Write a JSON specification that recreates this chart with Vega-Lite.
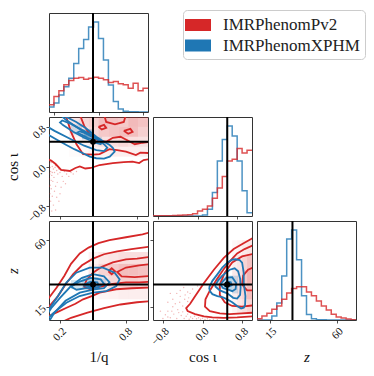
{
"$schema": "https://vega.github.io/schema/vega-lite/v6.json",
"background": "white",
"padding": {"left": 4, "top": 9, "right": 5, "bottom": 5},
"columns": 3,
"spacing": 5,
"bounds": "flush",
"config": {
  "view": {"stroke": "#333333", "strokeWidth": 1},
  "axis": {"domain": false, "grid": false, "tickColor": "#222222", "tickSize": 3, "tickWidth": 0.8, "labelFont": "Liberation Serif", "labelFontSize": 11, "labelColor": "#111111", "labelPadding": 2, "labelOverlap": false, "labelBound": false, "labelFlush": false, "titleFont": "Liberation Serif", "titleFontSize": 15, "titleFontWeight": "normal", "titleColor": "#111111"},
  "axisX": {"labelAngle": -45, "labelAlign": "right", "labelBaseline": "top", "labelOverlap": false, "minExtent": 24, "maxExtent": 24, "titlePadding": 5},
  "axisY": {"labelAngle": -45, "labelAlign": "right", "labelBaseline": "middle", "labelOverlap": false, "minExtent": 24, "maxExtent": 24, "titlePadding": 5},
  "legend": {"labelFont": "Liberation Serif", "labelFontSize": 17, "labelColor": "#222222"}
},
"datasets": {
"truth": [{"q": 0.5, "c": 0.5, "z": 30}],
"hist": [
{"p":"q","m":"X","x":0.1,"y":5.5},{"p":"q","m":"X","x":0.145,"y":10},{"p":"q","m":"X","x":0.19,"y":19},{"p":"q","m":"X","x":0.235,"y":28},{"p":"q","m":"X","x":0.28,"y":37.5},{"p":"q","m":"X","x":0.325,"y":54},{"p":"q","m":"X","x":0.37,"y":70.6},{"p":"q","m":"X","x":0.415,"y":80.6},{"p":"q","m":"X","x":0.46,"y":94.5},{"p":"q","m":"X","x":0.505,"y":100},{"p":"q","m":"X","x":0.55,"y":81.7},{"p":"q","m":"X","x":0.595,"y":57.8},{"p":"q","m":"X","x":0.64,"y":30},{"p":"q","m":"X","x":0.685,"y":11.8},{"p":"q","m":"X","x":0.73,"y":3.3},{"p":"q","m":"X","x":0.775,"y":0.7},{"p":"q","m":"X","x":0.82,"y":0.3},{"p":"q","m":"X","x":0.865,"y":0.2},{"p":"q","m":"X","x":0.91,"y":0.1},{"p":"q","m":"X","x":0.955,"y":0.1},{"p":"q","m":"X","x":1.0,"y":0.1},
{"p":"q","m":"P","x":0.1,"y":8.1},{"p":"q","m":"P","x":0.145,"y":17.3},{"p":"q","m":"P","x":0.19,"y":23.5},{"p":"q","m":"P","x":0.235,"y":30.2},{"p":"q","m":"P","x":0.28,"y":35},{"p":"q","m":"P","x":0.325,"y":37.5},{"p":"q","m":"P","x":0.37,"y":38.3},{"p":"q","m":"P","x":0.415,"y":36.4},{"p":"q","m":"P","x":0.46,"y":37.5},{"p":"q","m":"P","x":0.505,"y":38.6},{"p":"q","m":"P","x":0.55,"y":37.5},{"p":"q","m":"P","x":0.595,"y":35.7},{"p":"q","m":"P","x":0.64,"y":32.7},{"p":"q","m":"P","x":0.685,"y":33.8},{"p":"q","m":"P","x":0.73,"y":31.3},{"p":"q","m":"P","x":0.775,"y":30.2},{"p":"q","m":"P","x":0.82,"y":26.5},{"p":"q","m":"P","x":0.865,"y":32},{"p":"q","m":"P","x":0.91,"y":23.5},{"p":"q","m":"P","x":0.955,"y":26.5},{"p":"q","m":"P","x":1.0,"y":26.5},
{"p":"c","m":"X","x":-1,"y":0},{"p":"c","m":"X","x":-0.9,"y":0},{"p":"c","m":"X","x":-0.8,"y":0},{"p":"c","m":"X","x":-0.7,"y":0},{"p":"c","m":"X","x":-0.6,"y":0},{"p":"c","m":"X","x":-0.5,"y":0},{"p":"c","m":"X","x":-0.4,"y":0},{"p":"c","m":"X","x":-0.3,"y":0},{"p":"c","m":"X","x":-0.2,"y":0},{"p":"c","m":"X","x":-0.1,"y":0},{"p":"c","m":"X","x":0,"y":1},{"p":"c","m":"X","x":0.1,"y":7.4},{"p":"c","m":"X","x":0.2,"y":26},{"p":"c","m":"X","x":0.3,"y":61},{"p":"c","m":"X","x":0.4,"y":85},{"p":"c","m":"X","x":0.5,"y":100},{"p":"c","m":"X","x":0.6,"y":89},{"p":"c","m":"X","x":0.7,"y":61},{"p":"c","m":"X","x":0.8,"y":28},{"p":"c","m":"X","x":0.9,"y":3.7},{"p":"c","m":"X","x":1.0,"y":3.7},
{"p":"c","m":"P","x":-1,"y":0.2},{"p":"c","m":"P","x":-0.9,"y":0.2},{"p":"c","m":"P","x":-0.8,"y":0.3},{"p":"c","m":"P","x":-0.7,"y":0.4},{"p":"c","m":"P","x":-0.6,"y":0.5},{"p":"c","m":"P","x":-0.5,"y":0.8},{"p":"c","m":"P","x":-0.4,"y":1.1},{"p":"c","m":"P","x":-0.3,"y":1.5},{"p":"c","m":"P","x":-0.2,"y":2.6},{"p":"c","m":"P","x":-0.1,"y":5.5},{"p":"c","m":"P","x":0,"y":7.4},{"p":"c","m":"P","x":0.1,"y":11},{"p":"c","m":"P","x":0.2,"y":19.6},{"p":"c","m":"P","x":0.3,"y":31},{"p":"c","m":"P","x":0.4,"y":44},{"p":"c","m":"P","x":0.5,"y":61},{"p":"c","m":"P","x":0.6,"y":63},{"p":"c","m":"P","x":0.7,"y":75},{"p":"c","m":"P","x":0.8,"y":70},{"p":"c","m":"P","x":0.9,"y":73},{"p":"c","m":"P","x":1.0,"y":73},
{"p":"z","m":"X","x":6,"y":0},{"p":"z","m":"X","x":9.35,"y":0},{"p":"z","m":"X","x":12.7,"y":0},{"p":"z","m":"X","x":16.05,"y":4.4},{"p":"z","m":"X","x":19.4,"y":19},{"p":"z","m":"X","x":22.75,"y":49},{"p":"z","m":"X","x":26.1,"y":90},{"p":"z","m":"X","x":29.45,"y":100},{"p":"z","m":"X","x":32.8,"y":67},{"p":"z","m":"X","x":36.15,"y":27},{"p":"z","m":"X","x":39.5,"y":6},{"p":"z","m":"X","x":42.85,"y":1.5},{"p":"z","m":"X","x":46.2,"y":0.3},{"p":"z","m":"X","x":49.55,"y":0.2},{"p":"z","m":"X","x":52.9,"y":0.1},{"p":"z","m":"X","x":56.25,"y":0},{"p":"z","m":"X","x":59.6,"y":0},{"p":"z","m":"X","x":62.95,"y":0},{"p":"z","m":"X","x":66.3,"y":0},{"p":"z","m":"X","x":69.65,"y":0},{"p":"z","m":"X","x":73,"y":0},
{"p":"z","m":"P","x":6,"y":1.5},{"p":"z","m":"P","x":9.35,"y":4.4},{"p":"z","m":"P","x":12.7,"y":7.4},{"p":"z","m":"P","x":16.05,"y":12},{"p":"z","m":"P","x":19.4,"y":15.5},{"p":"z","m":"P","x":22.75,"y":23},{"p":"z","m":"P","x":26.1,"y":30},{"p":"z","m":"P","x":29.45,"y":35},{"p":"z","m":"P","x":32.8,"y":37},{"p":"z","m":"P","x":36.15,"y":37},{"p":"z","m":"P","x":39.5,"y":31},{"p":"z","m":"P","x":42.85,"y":27},{"p":"z","m":"P","x":46.2,"y":21},{"p":"z","m":"P","x":49.55,"y":15.5},{"p":"z","m":"P","x":52.9,"y":11},{"p":"z","m":"P","x":56.25,"y":6.3},{"p":"z","m":"P","x":59.6,"y":3.3},{"p":"z","m":"P","x":62.95,"y":2.2},{"p":"z","m":"P","x":66.3,"y":1.1},{"p":"z","m":"P","x":69.65,"y":0.4},{"p":"z","m":"P","x":73,"y":0.4}
],
"shade": [
{"p":"A","m":"P","x":0.28,"x2":0.37,"y":0.8,"y2":1.0,"a":0.12},{"p":"A","m":"P","x":0.37,"x2":0.46,"y":0.8,"y2":1.0,"a":0.18},{"p":"A","m":"P","x":0.46,"x2":0.55,"y":0.8,"y2":1.0,"a":0.22},{"p":"A","m":"P","x":0.55,"x2":0.64,"y":0.8,"y2":1.0,"a":0.3},{"p":"A","m":"P","x":0.64,"x2":0.73,"y":0.8,"y2":1.0,"a":0.28},{"p":"A","m":"P","x":0.73,"x2":0.82,"y":0.8,"y2":1.0,"a":0.25},{"p":"A","m":"P","x":0.82,"x2":0.91,"y":0.8,"y2":1.0,"a":0.32},{"p":"A","m":"P","x":0.91,"x2":1.0,"y":0.8,"y2":1.0,"a":0.28},
{"p":"A","m":"P","x":0.28,"x2":0.37,"y":0.6,"y2":0.8,"a":0.08},{"p":"A","m":"P","x":0.37,"x2":0.46,"y":0.6,"y2":0.8,"a":0.12},{"p":"A","m":"P","x":0.46,"x2":0.55,"y":0.6,"y2":0.8,"a":0.18},{"p":"A","m":"P","x":0.55,"x2":0.64,"y":0.6,"y2":0.8,"a":0.25},{"p":"A","m":"P","x":0.64,"x2":0.73,"y":0.6,"y2":0.8,"a":0.28},{"p":"A","m":"P","x":0.73,"x2":0.82,"y":0.6,"y2":0.8,"a":0.3},{"p":"A","m":"P","x":0.82,"x2":0.91,"y":0.6,"y2":0.8,"a":0.3},{"p":"A","m":"P","x":0.91,"x2":1.0,"y":0.6,"y2":0.8,"a":0.22},
{"p":"A","m":"P","x":0.28,"x2":0.37,"y":0.4,"y2":0.6,"a":0.04},{"p":"A","m":"P","x":0.37,"x2":0.46,"y":0.4,"y2":0.6,"a":0.06},{"p":"A","m":"P","x":0.46,"x2":0.55,"y":0.4,"y2":0.6,"a":0.1},{"p":"A","m":"P","x":0.55,"x2":0.64,"y":0.4,"y2":0.6,"a":0.14},{"p":"A","m":"P","x":0.64,"x2":0.73,"y":0.4,"y2":0.6,"a":0.15},{"p":"A","m":"P","x":0.73,"x2":0.82,"y":0.4,"y2":0.6,"a":0.18},{"p":"A","m":"P","x":0.82,"x2":0.91,"y":0.4,"y2":0.6,"a":0.15},{"p":"A","m":"P","x":0.91,"x2":1.0,"y":0.4,"y2":0.6,"a":0.14},
{"p":"A","m":"P","x":0.28,"x2":0.37,"y":0.2,"y2":0.4,"a":0.02},{"p":"A","m":"P","x":0.37,"x2":0.46,"y":0.2,"y2":0.4,"a":0.03},{"p":"A","m":"P","x":0.46,"x2":0.55,"y":0.2,"y2":0.4,"a":0.05},{"p":"A","m":"P","x":0.55,"x2":0.64,"y":0.2,"y2":0.4,"a":0.06},{"p":"A","m":"P","x":0.64,"x2":0.73,"y":0.2,"y2":0.4,"a":0.08},{"p":"A","m":"P","x":0.73,"x2":0.82,"y":0.2,"y2":0.4,"a":0.08},{"p":"A","m":"P","x":0.82,"x2":0.91,"y":0.2,"y2":0.4,"a":0.08},{"p":"A","m":"P","x":0.91,"x2":1.0,"y":0.2,"y2":0.4,"a":0.08},
{"p":"B","m":"P","x":0.46,"x2":0.55,"y":44,"y2":52,"a":0.06},{"p":"B","m":"P","x":0.55,"x2":0.64,"y":44,"y2":52,"a":0.1},{"p":"B","m":"P","x":0.64,"x2":0.73,"y":44,"y2":52,"a":0.12},{"p":"B","m":"P","x":0.73,"x2":0.82,"y":44,"y2":52,"a":0.15},{"p":"B","m":"P","x":0.82,"x2":0.91,"y":44,"y2":52,"a":0.15},{"p":"B","m":"P","x":0.91,"x2":1.0,"y":44,"y2":52,"a":0.15},
{"p":"B","m":"P","x":0.46,"x2":0.55,"y":36,"y2":44,"a":0.1},{"p":"B","m":"P","x":0.55,"x2":0.64,"y":36,"y2":44,"a":0.2},{"p":"B","m":"P","x":0.64,"x2":0.73,"y":36,"y2":44,"a":0.25},{"p":"B","m":"P","x":0.73,"x2":0.82,"y":36,"y2":44,"a":0.3},{"p":"B","m":"P","x":0.82,"x2":0.91,"y":36,"y2":44,"a":0.3},{"p":"B","m":"P","x":0.91,"x2":1.0,"y":36,"y2":44,"a":0.28},
{"p":"B","m":"P","x":0.46,"x2":0.55,"y":28,"y2":36,"a":0.06},{"p":"B","m":"P","x":0.55,"x2":0.64,"y":28,"y2":36,"a":0.12},{"p":"B","m":"P","x":0.64,"x2":0.73,"y":28,"y2":36,"a":0.18},{"p":"B","m":"P","x":0.73,"x2":0.82,"y":28,"y2":36,"a":0.22},{"p":"B","m":"P","x":0.82,"x2":0.91,"y":28,"y2":36,"a":0.22},{"p":"B","m":"P","x":0.91,"x2":1.0,"y":28,"y2":36,"a":0.2},
{"p":"B","m":"P","x":0.46,"x2":0.55,"y":20,"y2":28,"a":0.03},{"p":"B","m":"P","x":0.55,"x2":0.64,"y":20,"y2":28,"a":0.05},{"p":"B","m":"P","x":0.64,"x2":0.73,"y":20,"y2":28,"a":0.06},{"p":"B","m":"P","x":0.73,"x2":0.82,"y":20,"y2":28,"a":0.08},{"p":"B","m":"P","x":0.82,"x2":0.91,"y":20,"y2":28,"a":0.08},{"p":"B","m":"P","x":0.91,"x2":1.0,"y":20,"y2":28,"a":0.08},
{"p":"C","m":"P","x":0.6,"x2":0.7,"y":10,"y2":20,"a":0.05},{"p":"C","m":"P","x":0.6,"x2":0.7,"y":20,"y2":30,"a":0.08},{"p":"C","m":"P","x":0.6,"x2":0.7,"y":30,"y2":40,"a":0.1},{"p":"C","m":"P","x":0.6,"x2":0.7,"y":40,"y2":50,"a":0.08},{"p":"C","m":"P","x":0.6,"x2":0.7,"y":50,"y2":60,"a":0.04},
{"p":"C","m":"P","x":0.7,"x2":0.8,"y":10,"y2":20,"a":0.1},{"p":"C","m":"P","x":0.7,"x2":0.8,"y":20,"y2":30,"a":0.15},{"p":"C","m":"P","x":0.7,"x2":0.8,"y":30,"y2":40,"a":0.15},{"p":"C","m":"P","x":0.7,"x2":0.8,"y":40,"y2":50,"a":0.12},{"p":"C","m":"P","x":0.7,"x2":0.8,"y":50,"y2":60,"a":0.06},
{"p":"C","m":"P","x":0.8,"x2":0.9,"y":10,"y2":20,"a":0.15},{"p":"C","m":"P","x":0.8,"x2":0.9,"y":20,"y2":30,"a":0.2},{"p":"C","m":"P","x":0.8,"x2":0.9,"y":30,"y2":40,"a":0.25},{"p":"C","m":"P","x":0.8,"x2":0.9,"y":40,"y2":50,"a":0.2},{"p":"C","m":"P","x":0.8,"x2":0.9,"y":50,"y2":60,"a":0.1},
{"p":"C","m":"P","x":0.9,"x2":1.0,"y":10,"y2":20,"a":0.2},{"p":"C","m":"P","x":0.9,"x2":1.0,"y":20,"y2":30,"a":0.3},{"p":"C","m":"P","x":0.9,"x2":1.0,"y":30,"y2":40,"a":0.35},{"p":"C","m":"P","x":0.9,"x2":1.0,"y":40,"y2":50,"a":0.28},{"p":"C","m":"P","x":0.9,"x2":1.0,"y":50,"y2":60,"a":0.12},
{"p":"A","m":"X","x":0.3,"x2":0.4,"y":0.65,"y2":0.85,"a":0.2},{"p":"A","m":"X","x":0.4,"x2":0.5,"y":0.55,"y2":0.75,"a":0.3},{"p":"A","m":"X","x":0.5,"x2":0.58,"y":0.45,"y2":0.6,"a":0.2},{"p":"A","m":"X","x":0.42,"x2":0.48,"y":0.6,"y2":0.7,"a":0.5},
{"p":"B","m":"X","x":0.3,"x2":0.4,"y":27,"y2":33,"a":0.2},{"p":"B","m":"X","x":0.4,"x2":0.55,"y":27,"y2":35,"a":0.3},{"p":"B","m":"X","x":0.45,"x2":0.52,"y":29,"y2":32,"a":0.5},{"p":"B","m":"X","x":0.55,"x2":0.62,"y":28,"y2":34,"a":0.2},
{"p":"C","m":"X","x":0.3,"x2":0.45,"y":27,"y2":35,"a":0.2},{"p":"C","m":"X","x":0.45,"x2":0.6,"y":26,"y2":36,"a":0.3},{"p":"C","m":"X","x":0.48,"x2":0.56,"y":29,"y2":32,"a":0.5},{"p":"C","m":"X","x":0.6,"x2":0.72,"y":24,"y2":36,"a":0.2}
],
"dots": [
{"p":"A","x":0.105,"y":0.05},{"p":"A","x":0.11,"y":-0.02},{"p":"A","x":0.12,"y":0.08},{"p":"A","x":0.115,"y":-0.1},{"p":"A","x":0.13,"y":0.0},{"p":"A","x":0.14,"y":-0.05},{"p":"A","x":0.125,"y":-0.18},{"p":"A","x":0.105,"y":-0.25},{"p":"A","x":0.15,"y":-0.12},{"p":"A","x":0.16,"y":0.02},{"p":"A","x":0.17,"y":-0.08},{"p":"A","x":0.135,"y":-0.3},{"p":"A","x":0.11,"y":-0.38},{"p":"A","x":0.12,"y":-0.45},{"p":"A","x":0.145,"y":-0.22},{"p":"A","x":0.18,"y":-0.15},{"p":"A","x":0.19,"y":-0.05},{"p":"A","x":0.2,"y":-0.12},{"p":"A","x":0.108,"y":-0.55},{"p":"A","x":0.13,"y":-0.6},{"p":"A","x":0.115,"y":-0.7},{"p":"A","x":0.16,"y":-0.4},{"p":"A","x":0.175,"y":-0.32},{"p":"A","x":0.15,"y":-0.5},{"p":"A","x":0.105,"y":-0.82},{"p":"A","x":0.125,"y":-0.9},{"p":"A","x":0.14,"y":-0.78},{"p":"A","x":0.2,"y":-0.55},{"p":"A","x":0.22,"y":-0.2},{"p":"A","x":0.24,"y":-0.1},{"p":"A","x":0.26,"y":-0.15},{"p":"A","x":0.23,"y":-0.3},{"p":"A","x":0.19,"y":-0.7},{"p":"A","x":0.17,"y":-0.62},{"p":"A","x":0.11,"y":0.1},{"p":"A","x":0.102,"y":-0.05},{"p":"A","x":0.108,"y":-0.15},{"p":"A","x":0.12,"y":-0.28},{"p":"A","x":0.103,"y":-0.4},{"p":"A","x":0.13,"y":-0.12},{"p":"A","x":0.155,"y":-0.02},{"p":"A","x":0.3,"y":-0.12},{"p":"A","x":0.28,"y":-0.2},{"p":"A","x":0.21,"y":-0.42},{"p":"A","x":0.25,"y":-0.35},{"p":"A","x":0.1,"y":-0.65},{"p":"A","x":0.16,"y":-0.88},{"p":"A","x":0.32,"y":-0.15},{"p":"A","x":0.35,"y":-0.1},
{"p":"C","x":-0.8,"y":7},{"p":"C","x":-0.75,"y":9.5},{"p":"C","x":-0.7,"y":12},{"p":"C","x":-0.65,"y":7.5},{"p":"C","x":-0.6,"y":15},{"p":"C","x":-0.58,"y":10},{"p":"C","x":-0.52,"y":7},{"p":"C","x":-0.5,"y":13},{"p":"C","x":-0.46,"y":18},{"p":"C","x":-0.43,"y":9},{"p":"C","x":-0.4,"y":11.5},{"p":"C","x":-0.4,"y":15.5},{"p":"C","x":-0.37,"y":7},{"p":"C","x":-0.36,"y":20},{"p":"C","x":-0.33,"y":8.5},{"p":"C","x":-0.3,"y":10},{"p":"C","x":-0.27,"y":6.5},{"p":"C","x":-0.24,"y":8},{"p":"C","x":-0.2,"y":7},{"p":"C","x":-0.16,"y":8.5},{"p":"C","x":-0.12,"y":6.8},{"p":"C","x":-0.08,"y":7.5},{"p":"C","x":-0.04,"y":6.5},{"p":"C","x":0.0,"y":7.2},{"p":"C","x":0.05,"y":6.4},{"p":"C","x":0.1,"y":6.8},{"p":"C","x":0.15,"y":6.3},{"p":"C","x":0.22,"y":6.5},{"p":"C","x":0.3,"y":6.2},{"p":"C","x":-0.6,"y":20},{"p":"C","x":-0.52,"y":24},{"p":"C","x":-0.45,"y":26},{"p":"C","x":-0.38,"y":28},{"p":"C","x":-0.3,"y":25},{"p":"C","x":-0.35,"y":23},{"p":"C","x":-0.7,"y":18},{"p":"C","x":-0.85,"y":12},{"p":"C","x":-0.45,"y":22},{"p":"C","x":-0.25,"y":24},{"p":"C","x":-0.2,"y":27},{"p":"C","x":-0.1,"y":29},{"p":"C","x":-0.65,"y":24},{"p":"C","x":-0.55,"y":17},{"p":"C","x":-0.48,"y":11},{"p":"C","x":-0.62,"y":12},{"p":"C","x":-0.7,"y":8},{"p":"C","x":-0.3,"y":18.5},{"p":"C","x":-0.28,"y":21}
],
"cont": [
{"p":"A","m":"P","id":"Ar4","o":0,"x":0.08,"y":0.15},{"p":"A","m":"P","id":"Ar4","o":1,"x":0.12,"y":0.12},{"p":"A","m":"P","id":"Ar4","o":2,"x":0.16,"y":0.05},{"p":"A","m":"P","id":"Ar4","o":3,"x":0.21,"y":-0.07},{"p":"A","m":"P","id":"Ar4","o":4,"x":0.29,"y":-0.09},{"p":"A","m":"P","id":"Ar4","o":5,"x":0.34,"y":-0.03},{"p":"A","m":"P","id":"Ar4","o":6,"x":0.38,"y":0.0},{"p":"A","m":"P","id":"Ar4","o":7,"x":0.43,"y":-0.04},{"p":"A","m":"P","id":"Ar4","o":8,"x":0.48,"y":-0.03},{"p":"A","m":"P","id":"Ar4","o":9,"x":0.56,"y":0.03},{"p":"A","m":"P","id":"Ar4","o":10,"x":0.68,"y":0.07},{"p":"A","m":"P","id":"Ar4","o":11,"x":0.78,"y":0.09},{"p":"A","m":"P","id":"Ar4","o":12,"x":0.86,"y":0.1},{"p":"A","m":"P","id":"Ar4","o":13,"x":0.92,"y":0.07},{"p":"A","m":"P","id":"Ar4","o":14,"x":0.96,"y":0.13},{"p":"A","m":"P","id":"Ar4","o":15,"x":1.02,"y":0.15},
{"p":"A","m":"P","id":"Ar3","o":0,"x":0.25,"y":1.05},{"p":"A","m":"P","id":"Ar3","o":1,"x":0.3,"y":0.7},{"p":"A","m":"P","id":"Ar3","o":2,"x":0.35,"y":0.45},{"p":"A","m":"P","id":"Ar3","o":3,"x":0.41,"y":0.25},{"p":"A","m":"P","id":"Ar3","o":4,"x":0.5,"y":0.24},{"p":"A","m":"P","id":"Ar3","o":5,"x":0.56,"y":0.25},{"p":"A","m":"P","id":"Ar3","o":6,"x":0.65,"y":0.35},{"p":"A","m":"P","id":"Ar3","o":7,"x":0.72,"y":0.33},{"p":"A","m":"P","id":"Ar3","o":8,"x":0.8,"y":0.3},{"p":"A","m":"P","id":"Ar3","o":9,"x":0.89,"y":0.23},{"p":"A","m":"P","id":"Ar3","o":10,"x":0.93,"y":0.28},{"p":"A","m":"P","id":"Ar3","o":11,"x":1.02,"y":0.27},
{"p":"A","m":"P","id":"Ar2","o":0,"x":0.38,"y":1.05},{"p":"A","m":"P","id":"Ar2","o":1,"x":0.42,"y":0.82},{"p":"A","m":"P","id":"Ar2","o":2,"x":0.48,"y":0.62},{"p":"A","m":"P","id":"Ar2","o":3,"x":0.55,"y":0.52},{"p":"A","m":"P","id":"Ar2","o":4,"x":0.62,"y":0.5},{"p":"A","m":"P","id":"Ar2","o":5,"x":0.68,"y":0.58},{"p":"A","m":"P","id":"Ar2","o":6,"x":0.75,"y":0.6},{"p":"A","m":"P","id":"Ar2","o":7,"x":0.82,"y":0.52},{"p":"A","m":"P","id":"Ar2","o":8,"x":0.88,"y":0.45},{"p":"A","m":"P","id":"Ar2","o":9,"x":0.95,"y":0.48},{"p":"A","m":"P","id":"Ar2","o":10,"x":1.02,"y":0.5},
{"p":"A","m":"P","id":"Ar1a","o":0,"x":0.6,"y":1.05},{"p":"A","m":"P","id":"Ar1a","o":1,"x":0.62,"y":0.9},{"p":"A","m":"P","id":"Ar1a","o":2,"x":0.7,"y":0.85},{"p":"A","m":"P","id":"Ar1a","o":3,"x":0.78,"y":0.9},{"p":"A","m":"P","id":"Ar1a","o":4,"x":0.8,"y":1.05},
{"p":"A","m":"P","id":"Ar1b","o":0,"x":0.78,"y":0.72},{"p":"A","m":"P","id":"Ar1b","o":1,"x":0.82,"y":0.66},{"p":"A","m":"P","id":"Ar1b","o":2,"x":0.86,"y":0.7},{"p":"A","m":"P","id":"Ar1b","o":3,"x":0.84,"y":0.76},{"p":"A","m":"P","id":"Ar1b","o":4,"x":0.78,"y":0.72},
{"p":"A","m":"P","id":"Ar1c","o":0,"x":0.55,"y":0.8},{"p":"A","m":"P","id":"Ar1c","o":1,"x":0.58,"y":0.75},{"p":"A","m":"P","id":"Ar1c","o":2,"x":0.62,"y":0.78},{"p":"A","m":"P","id":"Ar1c","o":3,"x":0.6,"y":0.84},{"p":"A","m":"P","id":"Ar1c","o":4,"x":0.55,"y":0.8},
{"p":"A","m":"X","id":"Ab4","o":0,"x":0.05,"y":0.62},{"p":"A","m":"X","id":"Ab4","o":1,"x":0.1,"y":0.633},{"p":"A","m":"X","id":"Ab4","o":2,"x":0.18,"y":0.53},{"p":"A","m":"X","id":"Ab4","o":3,"x":0.258,"y":0.433},{"p":"A","m":"X","id":"Ab4","o":4,"x":0.33,"y":0.35},{"p":"A","m":"X","id":"Ab4","o":5,"x":0.409,"y":0.267},{"p":"A","m":"X","id":"Ab4","o":6,"x":0.47,"y":0.2},{"p":"A","m":"X","id":"Ab4","o":7,"x":0.53,"y":0.167},{"p":"A","m":"X","id":"Ab4","o":8,"x":0.6,"y":0.16},{"p":"A","m":"X","id":"Ab4","o":9,"x":0.652,"y":0.2},{"p":"A","m":"X","id":"Ab4","o":10,"x":0.697,"y":0.3},{"p":"A","m":"X","id":"Ab4","o":11,"x":0.68,"y":0.38},{"p":"A","m":"X","id":"Ab4","o":12,"x":0.652,"y":0.433},{"p":"A","m":"X","id":"Ab4","o":13,"x":0.6,"y":0.5},{"p":"A","m":"X","id":"Ab4","o":14,"x":0.53,"y":0.6},{"p":"A","m":"X","id":"Ab4","o":15,"x":0.439,"y":0.767},{"p":"A","m":"X","id":"Ab4","o":16,"x":0.348,"y":0.9},{"p":"A","m":"X","id":"Ab4","o":17,"x":0.258,"y":1.0},{"p":"A","m":"X","id":"Ab4","o":18,"x":0.2,"y":1.05},
{"p":"A","m":"X","id":"Ab3","o":0,"x":0.05,"y":0.85},{"p":"A","m":"X","id":"Ab3","o":1,"x":0.15,"y":0.72},{"p":"A","m":"X","id":"Ab3","o":2,"x":0.3,"y":0.55},{"p":"A","m":"X","id":"Ab3","o":3,"x":0.42,"y":0.42},{"p":"A","m":"X","id":"Ab3","o":4,"x":0.53,"y":0.33},{"p":"A","m":"X","id":"Ab3","o":5,"x":0.6,"y":0.31},{"p":"A","m":"X","id":"Ab3","o":6,"x":0.63,"y":0.38},{"p":"A","m":"X","id":"Ab3","o":7,"x":0.6,"y":0.45},{"p":"A","m":"X","id":"Ab3","o":8,"x":0.55,"y":0.53},{"p":"A","m":"X","id":"Ab3","o":9,"x":0.45,"y":0.65},{"p":"A","m":"X","id":"Ab3","o":10,"x":0.35,"y":0.8},{"p":"A","m":"X","id":"Ab3","o":11,"x":0.25,"y":0.95},{"p":"A","m":"X","id":"Ab3","o":12,"x":0.2,"y":1.05},
{"p":"A","m":"X","id":"Ab2","o":0,"x":0.22,"y":0.85},{"p":"A","m":"X","id":"Ab2","o":1,"x":0.32,"y":0.7},{"p":"A","m":"X","id":"Ab2","o":2,"x":0.42,"y":0.58},{"p":"A","m":"X","id":"Ab2","o":3,"x":0.52,"y":0.48},{"p":"A","m":"X","id":"Ab2","o":4,"x":0.57,"y":0.45},{"p":"A","m":"X","id":"Ab2","o":5,"x":0.58,"y":0.5},{"p":"A","m":"X","id":"Ab2","o":6,"x":0.5,"y":0.62},{"p":"A","m":"X","id":"Ab2","o":7,"x":0.4,"y":0.74},{"p":"A","m":"X","id":"Ab2","o":8,"x":0.3,"y":0.86},{"p":"A","m":"X","id":"Ab2","o":9,"x":0.22,"y":0.93},{"p":"A","m":"X","id":"Ab2","o":10,"x":0.2,"y":0.89},{"p":"A","m":"X","id":"Ab2","o":11,"x":0.22,"y":0.85},
{"p":"A","m":"X","id":"Ab1","o":0,"x":0.38,"y":0.66},{"p":"A","m":"X","id":"Ab1","o":1,"x":0.45,"y":0.58},{"p":"A","m":"X","id":"Ab1","o":2,"x":0.5,"y":0.55},{"p":"A","m":"X","id":"Ab1","o":3,"x":0.52,"y":0.58},{"p":"A","m":"X","id":"Ab1","o":4,"x":0.45,"y":0.66},{"p":"A","m":"X","id":"Ab1","o":5,"x":0.38,"y":0.71},{"p":"A","m":"X","id":"Ab1","o":6,"x":0.36,"y":0.69},{"p":"A","m":"X","id":"Ab1","o":7,"x":0.38,"y":0.66},
{"p":"B","m":"P","id":"Br4","o":0,"x":0.05,"y":16},{"p":"B","m":"P","id":"Br4","o":1,"x":0.1,"y":21},{"p":"B","m":"P","id":"Br4","o":2,"x":0.17,"y":28},{"p":"B","m":"P","id":"Br4","o":3,"x":0.24,"y":36},{"p":"B","m":"P","id":"Br4","o":4,"x":0.3,"y":44},{"p":"B","m":"P","id":"Br4","o":5,"x":0.38,"y":51},{"p":"B","m":"P","id":"Br4","o":6,"x":0.46,"y":55},{"p":"B","m":"P","id":"Br4","o":7,"x":0.55,"y":58},{"p":"B","m":"P","id":"Br4","o":8,"x":0.65,"y":60},{"p":"B","m":"P","id":"Br4","o":9,"x":0.8,"y":62},{"p":"B","m":"P","id":"Br4","o":10,"x":0.95,"y":64},{"p":"B","m":"P","id":"Br4","o":11,"x":1.05,"y":66},
{"p":"B","m":"P","id":"Br4L","o":0,"x":0.2,"y":4},{"p":"B","m":"P","id":"Br4L","o":1,"x":0.3,"y":7.5},{"p":"B","m":"P","id":"Br4L","o":2,"x":0.45,"y":11},{"p":"B","m":"P","id":"Br4L","o":3,"x":0.6,"y":14},{"p":"B","m":"P","id":"Br4L","o":4,"x":0.75,"y":16.5},{"p":"B","m":"P","id":"Br4L","o":5,"x":0.9,"y":18},{"p":"B","m":"P","id":"Br4L","o":6,"x":1.05,"y":19},
{"p":"B","m":"P","id":"Br3","o":0,"x":0.05,"y":11},{"p":"B","m":"P","id":"Br3","o":1,"x":0.1,"y":15},{"p":"B","m":"P","id":"Br3","o":2,"x":0.18,"y":22},{"p":"B","m":"P","id":"Br3","o":3,"x":0.25,"y":30},{"p":"B","m":"P","id":"Br3","o":4,"x":0.32,"y":37},{"p":"B","m":"P","id":"Br3","o":5,"x":0.4,"y":43},{"p":"B","m":"P","id":"Br3","o":6,"x":0.5,"y":47.5},{"p":"B","m":"P","id":"Br3","o":7,"x":0.6,"y":50.5},{"p":"B","m":"P","id":"Br3","o":8,"x":0.72,"y":52.5},{"p":"B","m":"P","id":"Br3","o":9,"x":0.85,"y":54},{"p":"B","m":"P","id":"Br3","o":10,"x":1.05,"y":56},
{"p":"B","m":"P","id":"Br3L","o":0,"x":0.05,"y":5},{"p":"B","m":"P","id":"Br3L","o":1,"x":0.1,"y":8.7},{"p":"B","m":"P","id":"Br3L","o":2,"x":0.18,"y":11.5},{"p":"B","m":"P","id":"Br3L","o":3,"x":0.26,"y":14.3},{"p":"B","m":"P","id":"Br3L","o":4,"x":0.34,"y":17},{"p":"B","m":"P","id":"Br3L","o":5,"x":0.41,"y":20},{"p":"B","m":"P","id":"Br3L","o":6,"x":0.5,"y":22.5},{"p":"B","m":"P","id":"Br3L","o":7,"x":0.56,"y":24.5},{"p":"B","m":"P","id":"Br3L","o":8,"x":0.71,"y":26.8},{"p":"B","m":"P","id":"Br3L","o":9,"x":0.85,"y":27.5},{"p":"B","m":"P","id":"Br3L","o":10,"x":1.05,"y":28},
{"p":"B","m":"P","id":"Br2","o":0,"x":1.05,"y":49},{"p":"B","m":"P","id":"Br2","o":1,"x":0.9,"y":47.5},{"p":"B","m":"P","id":"Br2","o":2,"x":0.8,"y":47},{"p":"B","m":"P","id":"Br2","o":3,"x":0.68,"y":45},{"p":"B","m":"P","id":"Br2","o":4,"x":0.58,"y":42},{"p":"B","m":"P","id":"Br2","o":5,"x":0.5,"y":38},{"p":"B","m":"P","id":"Br2","o":6,"x":0.44,"y":33},{"p":"B","m":"P","id":"Br2","o":7,"x":0.42,"y":28.5},{"p":"B","m":"P","id":"Br2","o":8,"x":0.47,"y":27},{"p":"B","m":"P","id":"Br2","o":9,"x":0.56,"y":28.5},{"p":"B","m":"P","id":"Br2","o":10,"x":0.68,"y":30.5},{"p":"B","m":"P","id":"Br2","o":11,"x":0.8,"y":31.5},{"p":"B","m":"P","id":"Br2","o":12,"x":0.92,"y":31.5},{"p":"B","m":"P","id":"Br2","o":13,"x":1.05,"y":32},
{"p":"B","m":"P","id":"Br1","o":0,"x":1.05,"y":44},{"p":"B","m":"P","id":"Br1","o":1,"x":0.92,"y":43},{"p":"B","m":"P","id":"Br1","o":2,"x":0.8,"y":41.5},{"p":"B","m":"P","id":"Br1","o":3,"x":0.72,"y":38.5},{"p":"B","m":"P","id":"Br1","o":4,"x":0.76,"y":35.5},{"p":"B","m":"P","id":"Br1","o":5,"x":0.88,"y":35},{"p":"B","m":"P","id":"Br1","o":6,"x":1.05,"y":36},
{"p":"B","m":"P","id":"Br1b","o":0,"x":0.64,"y":39},{"p":"B","m":"P","id":"Br1b","o":1,"x":0.67,"y":37},{"p":"B","m":"P","id":"Br1b","o":2,"x":0.7,"y":39},{"p":"B","m":"P","id":"Br1b","o":3,"x":0.67,"y":41},{"p":"B","m":"P","id":"Br1b","o":4,"x":0.64,"y":39},
{"p":"B","m":"X","id":"Bb4","o":0,"x":0.05,"y":4},{"p":"B","m":"X","id":"Bb4","o":1,"x":0.08,"y":6},{"p":"B","m":"X","id":"Bb4","o":2,"x":0.136,"y":10.5},{"p":"B","m":"X","id":"Bb4","o":3,"x":0.258,"y":17.7},{"p":"B","m":"X","id":"Bb4","o":4,"x":0.379,"y":22.2},{"p":"B","m":"X","id":"Bb4","o":5,"x":0.5,"y":24.5},{"p":"B","m":"X","id":"Bb4","o":6,"x":0.621,"y":25.6},{"p":"B","m":"X","id":"Bb4","o":7,"x":0.712,"y":29},{"p":"B","m":"X","id":"Bb4","o":8,"x":0.742,"y":33.5},{"p":"B","m":"X","id":"Bb4","o":9,"x":0.697,"y":38},{"p":"B","m":"X","id":"Bb4","o":10,"x":0.591,"y":41.4},{"p":"B","m":"X","id":"Bb4","o":11,"x":0.47,"y":41.4},{"p":"B","m":"X","id":"Bb4","o":12,"x":0.348,"y":38},{"p":"B","m":"X","id":"Bb4","o":13,"x":0.258,"y":31.3},{"p":"B","m":"X","id":"Bb4","o":14,"x":0.182,"y":22.2},{"p":"B","m":"X","id":"Bb4","o":15,"x":0.1,"y":13.2},{"p":"B","m":"X","id":"Bb4","o":16,"x":0.05,"y":9},
{"p":"B","m":"X","id":"Bb3","o":0,"x":0.05,"y":6},{"p":"B","m":"X","id":"Bb3","o":1,"x":0.12,"y":14},{"p":"B","m":"X","id":"Bb3","o":2,"x":0.2,"y":21},{"p":"B","m":"X","id":"Bb3","o":3,"x":0.3,"y":29},{"p":"B","m":"X","id":"Bb3","o":4,"x":0.4,"y":34.5},{"p":"B","m":"X","id":"Bb3","o":5,"x":0.5,"y":37},{"p":"B","m":"X","id":"Bb3","o":6,"x":0.6,"y":35.5},{"p":"B","m":"X","id":"Bb3","o":7,"x":0.65,"y":31.5},{"p":"B","m":"X","id":"Bb3","o":8,"x":0.6,"y":27.5},{"p":"B","m":"X","id":"Bb3","o":9,"x":0.5,"y":26.5},{"p":"B","m":"X","id":"Bb3","o":10,"x":0.38,"y":24.5},{"p":"B","m":"X","id":"Bb3","o":11,"x":0.25,"y":19},{"p":"B","m":"X","id":"Bb3","o":12,"x":0.15,"y":11},{"p":"B","m":"X","id":"Bb3","o":13,"x":0.1,"y":5},
{"p":"B","m":"X","id":"Bb2","o":0,"x":0.3,"y":28.5},{"p":"B","m":"X","id":"Bb2","o":1,"x":0.38,"y":32},{"p":"B","m":"X","id":"Bb2","o":2,"x":0.48,"y":34.5},{"p":"B","m":"X","id":"Bb2","o":3,"x":0.57,"y":33.5},{"p":"B","m":"X","id":"Bb2","o":4,"x":0.6,"y":30.5},{"p":"B","m":"X","id":"Bb2","o":5,"x":0.54,"y":28},{"p":"B","m":"X","id":"Bb2","o":6,"x":0.44,"y":27.5},{"p":"B","m":"X","id":"Bb2","o":7,"x":0.35,"y":26.5},{"p":"B","m":"X","id":"Bb2","o":8,"x":0.3,"y":28.5},
{"p":"B","m":"X","id":"Bb1","o":0,"x":0.42,"y":30},{"p":"B","m":"X","id":"Bb1","o":1,"x":0.48,"y":32},{"p":"B","m":"X","id":"Bb1","o":2,"x":0.54,"y":31.5},{"p":"B","m":"X","id":"Bb1","o":3,"x":0.55,"y":29.5},{"p":"B","m":"X","id":"Bb1","o":4,"x":0.48,"y":28.8},{"p":"B","m":"X","id":"Bb1","o":5,"x":0.42,"y":29.2},{"p":"B","m":"X","id":"Bb1","o":6,"x":0.42,"y":30},
{"p":"C","m":"P","id":"Cr4","o":0,"x":1.05,"y":8.5},{"p":"C","m":"P","id":"Cr4","o":1,"x":0.7,"y":7.8},{"p":"C","m":"P","id":"Cr4","o":2,"x":0.43,"y":7.5},{"p":"C","m":"P","id":"Cr4","o":3,"x":0.2,"y":7.8},{"p":"C","m":"P","id":"Cr4","o":4,"x":0.03,"y":8.5},{"p":"C","m":"P","id":"Cr4","o":5,"x":-0.15,"y":10},{"p":"C","m":"P","id":"Cr4","o":6,"x":-0.3,"y":12},{"p":"C","m":"P","id":"Cr4","o":7,"x":-0.33,"y":14},{"p":"C","m":"P","id":"Cr4","o":8,"x":-0.25,"y":17},{"p":"C","m":"P","id":"Cr4","o":9,"x":-0.15,"y":22},{"p":"C","m":"P","id":"Cr4","o":10,"x":0.03,"y":31},{"p":"C","m":"P","id":"Cr4","o":11,"x":0.23,"y":40},{"p":"C","m":"P","id":"Cr4","o":12,"x":0.43,"y":48},{"p":"C","m":"P","id":"Cr4","o":13,"x":0.63,"y":54},{"p":"C","m":"P","id":"Cr4","o":14,"x":0.83,"y":58},{"p":"C","m":"P","id":"Cr4","o":15,"x":1.05,"y":62},
{"p":"C","m":"P","id":"Cr3","o":0,"x":1.05,"y":11},{"p":"C","m":"P","id":"Cr3","o":1,"x":0.8,"y":10.5},{"p":"C","m":"P","id":"Cr3","o":2,"x":0.55,"y":10},{"p":"C","m":"P","id":"Cr3","o":3,"x":0.35,"y":10.5},{"p":"C","m":"P","id":"Cr3","o":4,"x":0.15,"y":12},{"p":"C","m":"P","id":"Cr3","o":5,"x":0.05,"y":15},{"p":"C","m":"P","id":"Cr3","o":6,"x":0.06,"y":20},{"p":"C","m":"P","id":"Cr3","o":7,"x":0.15,"y":26},{"p":"C","m":"P","id":"Cr3","o":8,"x":0.28,"y":33},{"p":"C","m":"P","id":"Cr3","o":9,"x":0.42,"y":40},{"p":"C","m":"P","id":"Cr3","o":10,"x":0.56,"y":46},{"p":"C","m":"P","id":"Cr3","o":11,"x":0.7,"y":51},{"p":"C","m":"P","id":"Cr3","o":12,"x":0.85,"y":54},{"p":"C","m":"P","id":"Cr3","o":13,"x":1.05,"y":57},
{"p":"C","m":"P","id":"Cr2","o":0,"x":1.05,"y":16},{"p":"C","m":"P","id":"Cr2","o":1,"x":0.8,"y":15},{"p":"C","m":"P","id":"Cr2","o":2,"x":0.6,"y":15.5},{"p":"C","m":"P","id":"Cr2","o":3,"x":0.45,"y":18},{"p":"C","m":"P","id":"Cr2","o":4,"x":0.35,"y":23},{"p":"C","m":"P","id":"Cr2","o":5,"x":0.35,"y":30},{"p":"C","m":"P","id":"Cr2","o":6,"x":0.45,"y":38},{"p":"C","m":"P","id":"Cr2","o":7,"x":0.6,"y":45},{"p":"C","m":"P","id":"Cr2","o":8,"x":0.8,"y":49},{"p":"C","m":"P","id":"Cr2","o":9,"x":1.05,"y":51},
{"p":"C","m":"P","id":"Cr1","o":0,"x":1.05,"y":26},{"p":"C","m":"P","id":"Cr1","o":1,"x":0.9,"y":26},{"p":"C","m":"P","id":"Cr1","o":2,"x":0.8,"y":30},{"p":"C","m":"P","id":"Cr1","o":3,"x":0.82,"y":36},{"p":"C","m":"P","id":"Cr1","o":4,"x":0.92,"y":40},{"p":"C","m":"P","id":"Cr1","o":5,"x":1.05,"y":42},
{"p":"C","m":"X","id":"Cb4","o":0,"x":0.133,"y":27.9},{"p":"C","m":"X","id":"Cb4","o":1,"x":0.2,"y":32.5},{"p":"C","m":"X","id":"Cb4","o":2,"x":0.3,"y":36.9},{"p":"C","m":"X","id":"Cb4","o":3,"x":0.4,"y":41.5},{"p":"C","m":"X","id":"Cb4","o":4,"x":0.5,"y":44.8},{"p":"C","m":"X","id":"Cb4","o":5,"x":0.6,"y":46.8},{"p":"C","m":"X","id":"Cb4","o":6,"x":0.667,"y":47.1},{"p":"C","m":"X","id":"Cb4","o":7,"x":0.75,"y":46.5},{"p":"C","m":"X","id":"Cb4","o":8,"x":0.8,"y":44.8},{"p":"C","m":"X","id":"Cb4","o":9,"x":0.833,"y":38},{"p":"C","m":"X","id":"Cb4","o":10,"x":0.833,"y":31.3},{"p":"C","m":"X","id":"Cb4","o":11,"x":0.867,"y":22.2},{"p":"C","m":"X","id":"Cb4","o":12,"x":0.86,"y":16},{"p":"C","m":"X","id":"Cb4","o":13,"x":0.833,"y":14.3},{"p":"C","m":"X","id":"Cb4","o":14,"x":0.78,"y":13.8},{"p":"C","m":"X","id":"Cb4","o":15,"x":0.7,"y":15.5},{"p":"C","m":"X","id":"Cb4","o":16,"x":0.6,"y":18},{"p":"C","m":"X","id":"Cb4","o":17,"x":0.5,"y":20},{"p":"C","m":"X","id":"Cb4","o":18,"x":0.4,"y":21.5},{"p":"C","m":"X","id":"Cb4","o":19,"x":0.3,"y":22.2},{"p":"C","m":"X","id":"Cb4","o":20,"x":0.2,"y":23.5},{"p":"C","m":"X","id":"Cb4","o":21,"x":0.15,"y":25.5},{"p":"C","m":"X","id":"Cb4","o":22,"x":0.133,"y":27.9},
{"p":"C","m":"X","id":"Cb3","o":0,"x":0.25,"y":29},{"p":"C","m":"X","id":"Cb3","o":1,"x":0.32,"y":33},{"p":"C","m":"X","id":"Cb3","o":2,"x":0.4,"y":36},{"p":"C","m":"X","id":"Cb3","o":3,"x":0.55,"y":40},{"p":"C","m":"X","id":"Cb3","o":4,"x":0.65,"y":41},{"p":"C","m":"X","id":"Cb3","o":5,"x":0.72,"y":39},{"p":"C","m":"X","id":"Cb3","o":6,"x":0.76,"y":34},{"p":"C","m":"X","id":"Cb3","o":7,"x":0.77,"y":28},{"p":"C","m":"X","id":"Cb3","o":8,"x":0.76,"y":23},{"p":"C","m":"X","id":"Cb3","o":9,"x":0.7,"y":20.5},{"p":"C","m":"X","id":"Cb3","o":10,"x":0.62,"y":21},{"p":"C","m":"X","id":"Cb3","o":11,"x":0.5,"y":24},{"p":"C","m":"X","id":"Cb3","o":12,"x":0.35,"y":26},{"p":"C","m":"X","id":"Cb3","o":13,"x":0.25,"y":29},
{"p":"C","m":"X","id":"Cb2","o":0,"x":0.36,"y":30},{"p":"C","m":"X","id":"Cb2","o":1,"x":0.42,"y":32.5},{"p":"C","m":"X","id":"Cb2","o":2,"x":0.48,"y":34.5},{"p":"C","m":"X","id":"Cb2","o":3,"x":0.6,"y":35},{"p":"C","m":"X","id":"Cb2","o":4,"x":0.68,"y":31},{"p":"C","m":"X","id":"Cb2","o":5,"x":0.67,"y":27},{"p":"C","m":"X","id":"Cb2","o":6,"x":0.6,"y":25.5},{"p":"C","m":"X","id":"Cb2","o":7,"x":0.52,"y":26.5},{"p":"C","m":"X","id":"Cb2","o":8,"x":0.42,"y":27.5},{"p":"C","m":"X","id":"Cb2","o":9,"x":0.36,"y":30},
{"p":"C","m":"X","id":"Cb1","o":0,"x":0.44,"y":30},{"p":"C","m":"X","id":"Cb1","o":1,"x":0.5,"y":32},{"p":"C","m":"X","id":"Cb1","o":2,"x":0.57,"y":31.5},{"p":"C","m":"X","id":"Cb1","o":3,"x":0.59,"y":29.5},{"p":"C","m":"X","id":"Cb1","o":4,"x":0.52,"y":28.5},{"p":"C","m":"X","id":"Cb1","o":5,"x":0.45,"y":29},{"p":"C","m":"X","id":"Cb1","o":6,"x":0.44,"y":30}
]
},
"concat": [
{"width": 99, "height": 99, "layer": [
  {"data": {"name": "hist"}, "transform": [{"filter": "datum.p === 'q'"}],
   "mark": {"type": "line", "interpolate": "step-after", "strokeWidth": 1.5, "opacity": 0.8, "clip": true},
   "encoding": {
     "x": {"field": "x", "type": "quantitative", "scale": {"domain": [0.1, 1.0], "nice": false, "zero": false}, "axis": {"values": [0.15,0.2,0.25,0.3,0.35,0.4,0.45,0.5,0.55,0.6,0.65,0.7,0.75,0.8,0.85,0.9,0.95], "labels": false, "title": null}},
     "y": {"field": "y", "type": "quantitative", "scale": {"domain": [0, 110], "nice": false}, "axis": null},
     "color": {"field": "m", "type": "nominal", "scale": {"domain": ["P", "X"], "range": ["#d62728", "#1f77b4"]},
       "legend": {"orient": "none", "legendX": 134, "legendY": -3, "title": null, "labelExpr": "datum.label === 'P' ? 'IMRPhenomPv2' : 'IMRPhenomXPHM'", "symbolType": "M-1.3,-0.6H1.3V0.6H-1.3Z", "symbolSize": 400, "symbolStrokeWidth": 0, "symbolOpacity": 1, "labelFont": "Liberation Serif", "labelFontSize": 17, "labelColor": "#222222", "labelOffset": 15, "rowPadding": 2.5, "padding": 5, "fillColor": "white", "strokeColor": "#cccccc", "cornerRadius": 4,
         "encode": {"symbols": {"update": {"fill": {"scale": "color", "field": "value"}, "fillOpacity": {"value": 1}, "strokeWidth": {"value": 0}}}, "labels": {"update": {"font": {"value": "Liberation Serif"}, "fontSize": {"value": 17}}}}}}
   }},
  {"data": {"name": "truth"}, "mark": {"type": "rule", "color": "black", "strokeWidth": 2}, "encoding": {"x": {"field": "q", "type": "quantitative"}}}
]},
{"width": 99, "height": 99, "data": {"values": []}, "mark": "point", "view": {"stroke": null}},
{"width": 99, "height": 99, "data": {"values": []}, "mark": "point", "view": {"stroke": null}},
{"width": 99, "height": 99, "layer": [
  {"data": {"name": "shade"}, "transform": [{"filter": "datum.p === 'A'"}], "mark": {"type": "rect", "clip": true},
   "encoding": {
     "x": {"field": "x", "type": "quantitative", "scale": {"domain": [0.1, 1.0], "nice": false, "zero": false}, "axis": {"values": [0.2,0.3,0.4,0.5,0.6,0.7,0.8,0.9], "labels": false, "title": null}},
     "x2": {"field": "x2"},
     "y": {"field": "y", "type": "quantitative", "scale": {"domain": [-1, 1], "nice": false, "zero": false}, "axis": {"values": [-0.8,-0.4,0,0.4,0.8], "labelOverlap": false, "format": ".1f", "title": "cos ι"}},
     "y2": {"field": "y2"},
     "color": {"field": "m", "type": "nominal", "scale": {"domain": ["P", "X"], "range": ["#d62728", "#1f77b4"]}},
     "opacity": {"field": "a", "type": "quantitative", "scale": null}
   }},
  {"data": {"name": "dots"}, "transform": [{"filter": "datum.p === 'A'"}], "mark": {"type": "circle", "size": 2, "color": "#d62728", "opacity": 0.35, "clip": true},
   "encoding": {"x": {"field": "x", "type": "quantitative"}, "y": {"field": "y", "type": "quantitative"}}},
  {"data": {"name": "cont"}, "transform": [{"filter": "datum.p === 'A' && datum.m === 'P'"}], "mark": {"type": "line", "strokeWidth": 1.8, "clip": true},
   "encoding": {"x": {"field": "x", "type": "quantitative"}, "y": {"field": "y", "type": "quantitative"}, "color": {"field": "m", "type": "nominal"}, "detail": {"field": "id"}, "order": {"field": "o", "type": "quantitative"}}},
  {"data": {"name": "cont"}, "transform": [{"filter": "datum.p === 'A' && datum.m === 'X'"}], "mark": {"type": "line", "strokeWidth": 1.8, "clip": true},
   "encoding": {"x": {"field": "x", "type": "quantitative"}, "y": {"field": "y", "type": "quantitative"}, "color": {"field": "m", "type": "nominal"}, "detail": {"field": "id"}, "order": {"field": "o", "type": "quantitative"}}},
  {"data": {"name": "truth"}, "mark": {"type": "rule", "color": "black", "strokeWidth": 2}, "encoding": {"x": {"field": "q", "type": "quantitative"}}},
  {"data": {"name": "truth"}, "mark": {"type": "rule", "color": "black", "strokeWidth": 2}, "encoding": {"y": {"field": "c", "type": "quantitative"}}},
  {"data": {"name": "truth"}, "mark": {"type": "circle", "color": "black", "size": 36, "opacity": 1}, "encoding": {"x": {"field": "q", "type": "quantitative"}, "y": {"field": "c", "type": "quantitative"}}}
]},
{"width": 99, "height": 99, "layer": [
  {"data": {"name": "hist"}, "transform": [{"filter": "datum.p === 'c'"}],
   "mark": {"type": "line", "interpolate": "step-after", "strokeWidth": 1.5, "opacity": 0.8, "clip": true},
   "encoding": {
     "x": {"field": "x", "type": "quantitative", "scale": {"domain": [-1, 1], "nice": false, "zero": false}, "axis": {"values": [-0.9,-0.8,-0.7,-0.6,-0.5,-0.4,-0.3,-0.2,-0.1,0,0.1,0.2,0.3,0.4,0.5,0.6,0.7,0.8,0.9], "labels": false, "title": null}},
     "y": {"field": "y", "type": "quantitative", "scale": {"domain": [0, 110], "nice": false}, "axis": null},
     "color": {"field": "m", "type": "nominal"}
   }},
  {"data": {"name": "truth"}, "mark": {"type": "rule", "color": "black", "strokeWidth": 2}, "encoding": {"x": {"field": "c", "type": "quantitative"}}}
]},
{"width": 99, "height": 99, "data": {"values": []}, "mark": "point", "view": {"stroke": null}},
{"width": 99, "height": 99, "layer": [
  {"data": {"name": "shade"}, "transform": [{"filter": "datum.p === 'B'"}], "mark": {"type": "rect", "clip": true},
   "encoding": {
     "x": {"field": "x", "type": "quantitative", "scale": {"domain": [0.1, 1.0], "nice": false, "zero": false}, "axis": {"values": [0.2,0.4,0.6,0.8], "labelOverlap": false, "format": ".1f", "title": "1/q"}},
     "x2": {"field": "x2"},
     "y": {"field": "y", "type": "quantitative", "scale": {"domain": [6, 73], "nice": false, "zero": false}, "axis": {"values": [15,30,45,60], "labelOverlap": false, "format": "d", "title": "z", "titleFontStyle": "italic"}},
     "y2": {"field": "y2"},
     "color": {"field": "m", "type": "nominal"},
     "opacity": {"field": "a", "type": "quantitative", "scale": null}
   }},
  {"data": {"name": "cont"}, "transform": [{"filter": "datum.p === 'B' && datum.m === 'P'"}], "mark": {"type": "line", "strokeWidth": 1.8, "clip": true},
   "encoding": {"x": {"field": "x", "type": "quantitative"}, "y": {"field": "y", "type": "quantitative"}, "color": {"field": "m", "type": "nominal"}, "detail": {"field": "id"}, "order": {"field": "o", "type": "quantitative"}}},
  {"data": {"name": "cont"}, "transform": [{"filter": "datum.p === 'B' && datum.m === 'X'"}], "mark": {"type": "line", "strokeWidth": 1.8, "clip": true},
   "encoding": {"x": {"field": "x", "type": "quantitative"}, "y": {"field": "y", "type": "quantitative"}, "color": {"field": "m", "type": "nominal"}, "detail": {"field": "id"}, "order": {"field": "o", "type": "quantitative"}}},
  {"data": {"name": "truth"}, "mark": {"type": "rule", "color": "black", "strokeWidth": 2}, "encoding": {"x": {"field": "q", "type": "quantitative"}}},
  {"data": {"name": "truth"}, "mark": {"type": "rule", "color": "black", "strokeWidth": 2}, "encoding": {"y": {"field": "z", "type": "quantitative"}}},
  {"data": {"name": "truth"}, "mark": {"type": "circle", "color": "black", "size": 36, "opacity": 1}, "encoding": {"x": {"field": "q", "type": "quantitative"}, "y": {"field": "z", "type": "quantitative"}}}
]},
{"width": 99, "height": 99, "layer": [
  {"data": {"name": "shade"}, "transform": [{"filter": "datum.p === 'C'"}], "mark": {"type": "rect", "clip": true},
   "encoding": {
     "x": {"field": "x", "type": "quantitative", "scale": {"domain": [-1, 1], "nice": false, "zero": false}, "axis": {"values": [-0.8,-0.4,0,0.4,0.8], "labelOverlap": false, "format": ".1f", "title": "cos ι"}},
     "x2": {"field": "x2"},
     "y": {"field": "y", "type": "quantitative", "scale": {"domain": [6, 73], "nice": false, "zero": false}, "axis": {"values": [15,30,45,60], "labels": false, "title": null}},
     "y2": {"field": "y2"},
     "color": {"field": "m", "type": "nominal"},
     "opacity": {"field": "a", "type": "quantitative", "scale": null}
   }},
  {"data": {"name": "dots"}, "transform": [{"filter": "datum.p === 'C'"}], "mark": {"type": "circle", "size": 2, "color": "#d62728", "opacity": 0.35, "clip": true},
   "encoding": {"x": {"field": "x", "type": "quantitative"}, "y": {"field": "y", "type": "quantitative"}}},
  {"data": {"name": "cont"}, "transform": [{"filter": "datum.p === 'C' && datum.m === 'P'"}], "mark": {"type": "line", "strokeWidth": 1.8, "clip": true},
   "encoding": {"x": {"field": "x", "type": "quantitative"}, "y": {"field": "y", "type": "quantitative"}, "color": {"field": "m", "type": "nominal"}, "detail": {"field": "id"}, "order": {"field": "o", "type": "quantitative"}}},
  {"data": {"name": "cont"}, "transform": [{"filter": "datum.p === 'C' && datum.m === 'X'"}], "mark": {"type": "line", "strokeWidth": 1.8, "clip": true},
   "encoding": {"x": {"field": "x", "type": "quantitative"}, "y": {"field": "y", "type": "quantitative"}, "color": {"field": "m", "type": "nominal"}, "detail": {"field": "id"}, "order": {"field": "o", "type": "quantitative"}}},
  {"data": {"name": "truth"}, "mark": {"type": "rule", "color": "black", "strokeWidth": 2}, "encoding": {"x": {"field": "c", "type": "quantitative"}}},
  {"data": {"name": "truth"}, "mark": {"type": "rule", "color": "black", "strokeWidth": 2}, "encoding": {"y": {"field": "z", "type": "quantitative"}}},
  {"data": {"name": "truth"}, "mark": {"type": "circle", "color": "black", "size": 36, "opacity": 1}, "encoding": {"x": {"field": "c", "type": "quantitative"}, "y": {"field": "z", "type": "quantitative"}}}
]},
{"width": 99, "height": 99, "layer": [
  {"data": {"name": "hist"}, "transform": [{"filter": "datum.p === 'z'"}],
   "mark": {"type": "line", "interpolate": "step-after", "strokeWidth": 1.5, "opacity": 0.8, "clip": true},
   "encoding": {
     "x": {"field": "x", "type": "quantitative", "scale": {"domain": [6, 73], "nice": false, "zero": false}, "axis": {"values": [15,30,45,60], "labelOverlap": false, "format": "d", "title": "z", "titleFontStyle": "italic"}},
     "y": {"field": "y", "type": "quantitative", "scale": {"domain": [0, 110], "nice": false}, "axis": null},
     "color": {"field": "m", "type": "nominal"}
   }},
  {"data": {"name": "truth"}, "mark": {"type": "rule", "color": "black", "strokeWidth": 2}, "encoding": {"x": {"field": "z", "type": "quantitative"}}}
]}
]
}
